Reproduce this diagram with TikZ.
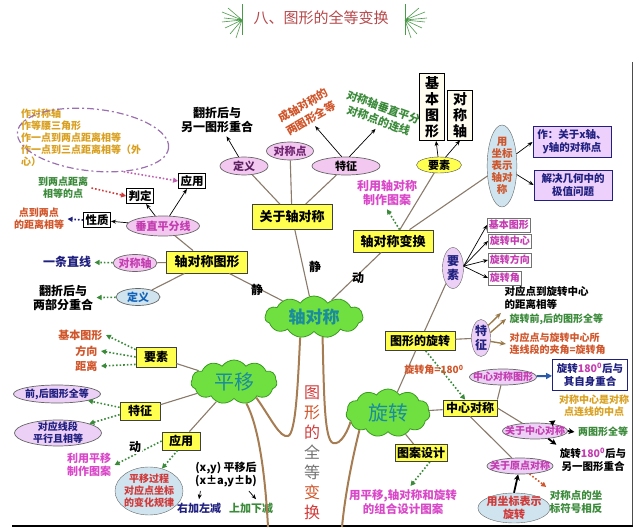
\documentclass[tikz,border=0pt]{standalone}
\usepackage{fontspec}
\setmainfont{Noto Sans CJK SC}
\usepackage{tikz}
\usetikzlibrary{shapes.geometric,shapes.symbols,arrows.meta}

\newcommand{\fsz}[2]{\fontsize{#1}{#2}\selectfont}
\definecolor{ctitle}{HTML}{B5484A}
\definecolor{cstar}{HTML}{4A9A4A}
\definecolor{cgold}{HTML}{D9A020}
\definecolor{cdash}{HTML}{9A70B0}
\definecolor{cpdot}{HTML}{C060B0}
\definecolor{cred}{HTML}{D03A3A}
\definecolor{cnavy}{HTML}{202080}
\definecolor{cgrn}{HTML}{3A8A3A}
\definecolor{corng}{HTML}{D0552A}
\definecolor{cmgt}{HTML}{D848C8}
\definecolor{cpinkbg}{HTML}{F3C8F0}
\definecolor{cpinktx}{HTML}{C33CB0}
\definecolor{cdkp}{HTML}{5A2060}
\definecolor{clblue}{HTML}{CFE4EE}
\definecolor{clav}{HTML}{ECD0F5}
\definecolor{cviolet}{HTML}{EED0FC}
\definecolor{cyel}{HTML}{FFFF50}
\definecolor{ccream}{HTML}{FFFDF0}
\definecolor{clink}{HTML}{8A7A6A}
\definecolor{ctrunk}{HTML}{A67C52}
\definecolor{ccloud}{HTML}{70E040}
\definecolor{ccloudd}{HTML}{3A9A20}
\definecolor{cteal}{HTML}{1A8C9C}
\definecolor{cbluearr}{HTML}{2A5AAA}
\definecolor{cbarr}{HTML}{9A7A4A}

\begin{document}
\begin{tikzpicture}[x=1pt,y=-1pt,
  ybox/.style={draw=black!75, fill=cyel, line width=0.8pt, inner sep=2pt, font=\fsz{12}{14}\bfseries},
  wbox/.style={draw=black, fill=white, line width=0.8pt, inner sep=2pt, font=\fsz{11.5}{13}\bfseries},
  pell/.style={ellipse, draw=black!60, fill=cpinkbg, text=cpinktx, line width=0.7pt, inner xsep=-2pt, inner ysep=0pt, font=\fsz{11}{13}\bfseries},
  lell/.style={ellipse, draw=black!60, fill=clav, line width=0.7pt, inner xsep=-7pt, inner ysep=0pt, text=cpinktx, font=\fsz{10}{12}\bfseries},
  rbox/.style={draw=black!55, fill=white, text=cpinktx, line width=0.8pt, inner sep=1.5pt, minimum height=14pt, anchor=west, font=\fsz{10}{12}\bfseries},
  vbox/.style={draw=cnavy, fill=cviolet, text=cnavy, line width=0.9pt, align=center, minimum width=78pt, minimum height=30pt, font=\fsz{10.5}{13}\bfseries},
  cld/.style={cloud, cloud puffs=11, cloud puff arc=110, cloud ignores aspect, draw=ccloudd, fill=ccloud, text=cteal, line width=0.8pt, inner sep=0pt},
  txt/.style={font=\fsz{10}{12}\bfseries, align=center},
  lab/.style={font=\fsz{12}{14}\bfseries},
  lnk/.style={draw=clink, line width=1.1pt},
  trk/.style={draw=ctrunk, line width=2pt},
  arr/.style={-{Stealth[length=5pt,width=4pt]}, black, line width=0.7pt},
  karr/.style={-{Stealth[length=6pt,width=6pt]}, black, line width=1.8pt},
  barr/.style={-{Stealth[length=6pt,width=5pt]}, cbarr, line width=1.4pt},
  darr/.style={dotted, line width=1.6pt, -{Triangle[length=5pt,width=5pt]}, cgrn}]
\useasboundingbox (0,0) rectangle (640,529);

\draw[black!70, line width=0.8pt] (632,62) -- (632,526);
\draw[black, line width=1.6pt] (12,526) -- (633,526);

\node[text=ctitle, font=\fsz{15}{17}] (title) at (321,18) {八、图形的全等变换};
\coordinate (sl) at (242,20);
\coordinate (sr) at (405,20);
\draw[cstar, line width=1pt] (242,4) -- (242,35);
\draw[cstar, line width=1pt] (405,4) -- (405,35);
\draw[cstar, line width=0.6pt] (sl) -- (222,12) (sl) -- (224,18) (sl) -- (222,22) (sl) -- (225,28) (sl) -- (230,34) (sl) -- (236,38) (sl) -- (228,8);
\draw[cstar, line width=0.6pt] (sr) -- (425,12) (sr) -- (427,18) (sr) -- (425,22) (sr) -- (422,28) (sr) -- (417,34) (sr) -- (411,38) (sr) -- (419,8);

\node[font=\fsz{10}{12}\bfseries, text=cgold, align=left, anchor=north west, inner sep=0pt] (zuofa) at (21,109) {作对称轴\\作等腰三角形\\作一点到两点距离相等\\作一点到三点距离相等（外\\心）};
\node[ellipse, draw=cdash, dash pattern=on 7pt off 3pt on 2pt off 3pt, line width=1.2pt, minimum width=152pt, minimum height=62pt, rotate=-6] (zuofaring) at (93,140) {};
\node[wbox] (yy1) at (192,181) {应用};
\node[wbox] (pd) at (140,196) {判定};
\node[wbox] (xz) at (97,220) {性质};
\node[pell, minimum width=73pt, minimum height=20pt] (czpf) at (163,226) {垂直平分线};
\node[txt, text=cgrn] (tdao) at (63,188) {到两点距离\\相等的点};
\node[txt, text=corng] (tdian) at (39,219) {点到两点\\的距离相等};
\draw[darr, cpdot] (zuofaring.-40) -- (yy1.west);
\draw[darr, cred] (tdao.east) -- (pd.west);
\draw[darr, cnavy] (xz.west) -- (tdian.east);
\draw[arr] (czpf) -- (pd);
\draw[arr] (czpf) -- (yy1);
\draw[arr] (czpf) -- (xz);

\node[font=\fsz{12}{14}\bfseries, align=center] (tfz1) at (217,120) {翻折后与\\另一图形重合};
\node[pell, text=cdkp, minimum width=48pt, minimum height=18pt] (dy1) at (244,166) {定义};
\node[pell, text=cdkp!80!cpinktx, minimum width=47pt, minimum height=18pt] (dcd) at (290,151) {对称点};
\node[pell, text=black, minimum width=68pt, minimum height=18pt] (tz1) at (346,166) {特征};
\node[ybox, font=\fsz{13}{15}\bfseries, minimum width=80pt, minimum height=25pt] (gyz) at (292,217) {关于轴对称};
\node[font=\fsz{11}{15}\bfseries, text=corng, align=center, rotate=30] (tqd1) at (307,112) {成轴对称的\\两图形全等};
\node[font=\fsz{11}{14}\bfseries, text=cgrn, align=center, rotate=-20] (tcz) at (381,114) {对称轴垂直平分\\对称点的连线};
\draw[arr] (dy1) -- (tfz1);
\draw[arr] (tz1.115) -- (tqd1.south);
\draw[arr] (tz1.70) -- (tcz.south);
\draw[lnk] (gyz) -- (dy1);
\draw[lnk] (gyz) -- (dcd);
\draw[lnk] (gyz) -- (tz1);

\node[wbox, fill=ccream, font=\fsz{14}{16}\bfseries, align=center, minimum width=25pt, minimum height=67pt] (jb1) at (432,107) {基\\本\\图\\形};
\node[wbox, fill=ccream, font=\fsz{14}{16}\bfseries, align=center, minimum width=25pt, minimum height=50pt] (dcz1) at (460,115) {对\\称\\轴};
\node[ellipse, draw=black!70, fill=cyel, font=\fsz{11}{13}\bfseries, minimum width=45pt, minimum height=16pt, inner sep=0pt] (ys1) at (439,165) {要素};
\draw[arr] (ys1) -- (jb1);
\draw[arr] (ys1.50) -- (dcz1.south);
\node[ellipse, draw=black!60, fill=clblue, text=corng, font=\fsz{10.5}{12}\bfseries, align=center, minimum width=29pt, minimum height=82pt, inner sep=0pt] (zb1) at (502,166) {用\\坐标\\表示\\轴对\\称};
\node[vbox] (bx) at (572,142) {作：关于x轴、\\y轴的对称点};
\node[vbox] (bjz) at (573,185) {解决几何中的\\极值问题};
\draw[arr] (zb1.40) -- (bx.west);
\draw[arr] (zb1.-30) -- (bjz.west);
\node[ybox, font=\fsz{13}{15}\bfseries, minimum width=80pt, minimum height=22pt] (zdbh) at (393,241) {轴对称变换};
\draw[lnk] (zdbh) -- (ys1);
\draw[lnk] (zdbh) -- (zb1);
\node[font=\fsz{12}{14}\bfseries, text=cmgt, align=center] (tly1) at (387,193) {利用轴对称\\制作图案};
\draw[darr] (zdbh.60) -- (tly1.south);

\node[ybox, font=\fsz{13}{15}\bfseries, minimum width=81pt, minimum height=22pt] (dctx) at (207,262) {轴对称图形};
\node[pell, minimum width=44pt, minimum height=17pt] (dcz2) at (135,263) {对称轴};
\node[font=\fsz{12}{14}\bfseries, text=cnavy] (tzx) at (67,262) {一条直线};
\node[pell, fill=clblue, text=cteal!70!blue, minimum width=44pt, minimum height=17pt] (dy2) at (138,297) {定义};
\node[font=\fsz{12}{14}\bfseries, align=center] (tfz2) at (63,298) {翻折后与\\两部分重合};
\draw[darr] (dcz2) -- (tzx);
\draw[darr] (dy2) -- (tfz2);
\draw[lnk] (dctx) -- (dcz2);
\draw[lnk] (dctx) -- (dy2);
\draw[lnk] (czpf) -- (dctx);

\node[cld, minimum width=98pt, minimum height=42pt, font=\fsz{17}{20}\bfseries] (zdc) at (314,317) {轴对称};
\draw[lnk] (dctx) -- (zdc) node[lab] (jing1) at (257,290) {静};
\draw[lnk] (gyz) -- (zdc) node[lab] (jing2) at (315,267) {静};
\draw[lnk] (zdbh) -- (zdc) node[lab] (dong1) at (358,278) {动};

\node[cld, minimum width=86pt, minimum height=44pt, font=\fsz{20}{24}] (py) at (234,382) {平移};
\node[ybox, minimum width=40pt, minimum height=20pt] (ys2) at (156,357) {要素};
\node[font=\fsz{11}{13}\bfseries, text=corng, anchor=east] (tjb) at (106,335) {基本图形};
\node[font=\fsz{11}{13}\bfseries, text=corng, anchor=east] (tfx) at (101,351) {方向};
\node[font=\fsz{11}{13}\bfseries, text=corng, anchor=east] (tjl) at (101,366) {距离};
\draw[darr] (ys2.160) -- (tjb.east);
\draw[darr] (ys2.west) -- (tfx.east);
\draw[darr] (ys2.200) -- (tjl.east);
\node[ybox, minimum width=40pt, minimum height=18pt] (tz2) at (140,411) {特征};
\node[lell, text=cnavy, inner xsep=-2pt, minimum width=87pt, minimum height=18pt] (tqh) at (57,394) {前,后图形全等};
\node[lell, text=cnavy, align=center, inner xsep=-2pt, inner ysep=-3pt, minimum width=87pt, minimum height=26pt] (tph) at (58,433) {对应线段\\平行且相等};
\draw[darr] (tz2.170) -- (tqh);
\draw[darr] (tz2.190) -- (tph);
\node[ybox, minimum width=38pt, minimum height=18pt] (yy2) at (181,441) {应用};
\node[font=\fsz{11}{13}\bfseries, text=cmgt, align=center] (tly2) at (89,465) {利用平移\\制作图案};
\draw[darr] (yy2.west) -- (tly2.east);
\node[lab, fill=white, inner sep=1pt] (dong2) at (135,447) {动};
\node[ellipse, draw=black!60, fill=clblue, text=cred, font=\fsz{10}{12}\bfseries, align=center, inner sep=-2pt, minimum width=68pt, minimum height=48pt] (gl) at (149,491) {平移过程\\对应点坐标\\的变化规律};
\draw[darr] (yy2.250) -- (gl.60);
\node[font=\fsz{11}{13}\bfseries, align=center] (tpyh) at (226,475) {(x,y)\ 平移后\\(x±a,y±b)};
\node[font=\fsz{11}{13}\bfseries, text=cnavy] (tyj) at (199,508) {右加左减};
\node[font=\fsz{11}{13}\bfseries, text=cgrn] (tsj) at (251,508) {上加下减};
\draw[arr] (tpyh.212) -- (tyj.north);
\draw[arr] (tpyh.-35) -- (tsj.60);
\draw[lnk] (py) -- (ys2);
\draw[lnk] (py) -- (tz2);
\draw[lnk] (py) -- (yy2);

\node[font=\fsz{16}{20}, align=center] (bh) at (312,453) {\textcolor{cred}{图}\\\textcolor{corng}{形}\\\textcolor{cred}{的}\\\textcolor{black!55}{全}\\\textcolor{black!55}{等}\\\textcolor{corng}{变}\\\textcolor{cred}{换}};

\node[cld, minimum width=84pt, minimum height=48pt, font=\fsz{20}{24}] (xz2) at (388,413) {旋转};
\node[ybox, minimum width=70pt, minimum height=19pt] (txxz) at (420,341) {图形的旋转};
\node[ellipse, draw=black!60, fill=clav, text=cnavy, font=\fsz{12}{14}\bfseries, align=center, inner sep=-1pt, minimum width=21pt, minimum height=41pt] (ys3) at (453,268) {要\\素};
\node[rbox] (r1) at (487,225) {基本图形};
\node[rbox] (r2) at (488,241) {旋转中心};
\node[rbox] (r3) at (488,260) {旋转方向};
\node[rbox] (r4) at (488,278) {旋转角};
\draw[arr] (ys3.10) -- (r1.west);
\draw[arr] (ys3.10) -- (r2.west);
\draw[arr] (ys3.10) -- (r3.west);
\draw[arr] (ys3.10) -- (r4.west);
\node[ellipse, draw=black!60, fill=clav, text=cnavy, font=\fsz{12}{14}\bfseries, align=center, inner sep=-1pt, minimum width=19pt, minimum height=37pt] (tz3) at (481,338) {特\\征};
\node[font=\fsz{10.5}{12.5}\bfseries, align=left, anchor=west] (tjl3) at (501,298) {对应点到旋转中心\\的距离相等};
\node[font=\fsz{10}{12}\bfseries, text=cgrn, anchor=west] (tqd3) at (506,319) {旋转前,后的图形全等};
\node[font=\fsz{10}{12}\bfseries, text=corng, align=left, anchor=west] (tjj) at (506,344) {对应点与旋转中心所\\连线段的夹角=旋转角};
\draw[barr] (tz3.60) -- (tjl3.south west);
\draw[barr] (tz3.30) -- (tqd3.west);
\draw[barr] (tz3.-20) -- (tjj.west);
\draw[lnk] (txxz) -- (tz3);
\draw[lnk] (txxz) -- (ys3);
\draw[lnk] (xz2) -- (txxz);

\node[ybox, minimum width=54pt, minimum height=16pt] (zxdc) at (470,408) {中心对称};
\draw[darr] (txxz.-60) -- (zxdc.120) node[font=\fsz{10}{12}\bfseries, text=corng] (j180) at (434,370) {旋转角=180\textsuperscript{0}};
\draw[lnk] (xz2) -- (zxdc);
\node[lell, minimum width=67pt, minimum height=16pt] (zxtx) at (503,377) {中心对称图形};
\node[draw=cnavy, fill=white, text=cnavy, line width=0.9pt, align=center, minimum width=75pt, minimum height=30pt, font=\fsz{10.5}{13}\bfseries] (bzs) at (590,375) {旋转\textcolor{cpinktx}{180\textsuperscript{0}}后与\\其自身重合};
\draw[-{Triangle[length=6pt,width=6pt]}, cbluearr, line width=2pt] (zxtx) -- (bzs);
\node[txt, text=cgold] (tzd) at (594,406) {对称中心是对称\\点连线的中点};
\node[lell, minimum width=64pt, minimum height=16pt] (gyzx) at (535,431) {关于中心对称};
\node[txt, text=cgrn] (tqd4) at (603,432) {两图形全等};
\node[font=\fsz{10.5}{13}\bfseries, align=center] (tlyx) at (593,460) {旋转\textcolor{cpinktx}{180\textsuperscript{0}}后与\\另一图形重合};
\draw[karr] (gyzx.25) -- (tzd.south west);
\draw[karr] (gyzx.east) -- (tqd4.west);
\draw[karr] (gyzx.-30) -- (tlyx.north west);
\node[lell, minimum width=66pt, minimum height=16pt] (yd) at (520,466) {关于原点对称};
\node[ellipse, draw=black!60, fill=clblue, text=cred, font=\fsz{11}{13}\bfseries, align=center, inner sep=-2pt, minimum width=68pt, minimum height=30pt] (zb2) at (514,508) {用坐标表示\\旋转};
\draw[karr] (zb2.north) -- (yd);
\node[font=\fsz{10.5}{13}\bfseries, text=cgrn, align=center] (tfh) at (576,502) {对称点的坐\\标符号相反};
\draw[darr, corng] (yd.-40) -- (tfh.north west);
\draw[lnk] (zxdc.north east) -- (zxtx);
\draw[lnk] (zxdc.east) -- (gyzx);
\draw[lnk] (zxdc.south) -- (yd);
\node[ybox, minimum width=52pt, minimum height=17pt] (tasj) at (421,453) {图案设计};
\draw[lnk] (xz2) -- (tasj);
\node[font=\fsz{11.5}{14}\bfseries, text=cmgt, align=center] (tzh) at (403,502) {用平移,轴对称和旋转\\的组合设计图案};
\draw[darr] (tasj.-45) -- (tzh.65);

\coordinate (tl) at (268,527);
\coordinate (tr) at (342,527);
\draw[trk] (py.300) .. controls (258,425) and (265,470) .. (tl);
\draw[trk] (py.325) .. controls (272,420) and (280,438) .. (288,436) .. controls (296,434) and (298,380) .. (zdc.236);
\draw[trk] (zdc.293) .. controls (324,390) and (324,440) .. (333,443) .. controls (341,446) and (349,428) .. (xz2.193);
\draw[trk] (xz2.211) .. controls (352,460) and (345,495) .. (tr);
\end{tikzpicture}
\end{document}
